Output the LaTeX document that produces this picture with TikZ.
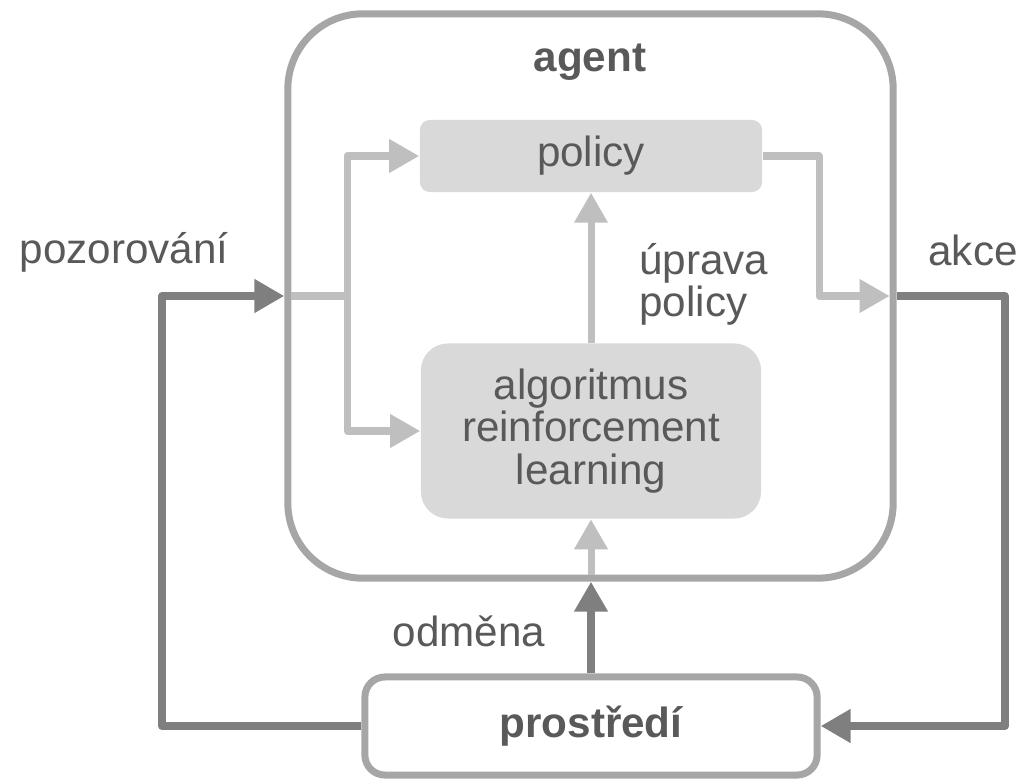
\documentclass[tikz,border=0pt]{standalone}
\usepackage{fontspec}
\setmainfont{Liberation Sans}
\usetikzlibrary{arrows.meta,positioning}
\definecolor{txtgray}{HTML}{595959}
\definecolor{framegray}{HTML}{A6A6A6}
\definecolor{flowlight}{HTML}{BFBFBF}
\definecolor{flowdark}{HTML}{7F7F7F}
\definecolor{boxgray}{HTML}{D9D9D9}

\begin{document}
\begin{tikzpicture}[x=0.01cm,y=-0.01cm,
    every node/.style={text=txtgray,font=\fontsize{12pt}{12pt}\selectfont},
    frame/.style={draw=framegray,line width=0.07cm},
    inner/.style={fill=boxgray,align=center,inner sep=0pt},
    tip/.style={-{Triangle[length=0.3cm,width=0.32cm]}},
    light/.style={draw=flowlight,line width=0.07cm,line join=round},
    dark/.style={draw=flowdark,line width=0.08cm,line join=round}]
    \useasboundingbox (0,0) rectangle (1021,782);

    % boxes
    \node[frame,minimum width=6.05cm,minimum height=5.64cm,rounded corners=0.75cm] (agent) at (590.5,296) {};
    \node[font=\fontsize{12pt}{12pt}\selectfont\bfseries] (agentlbl) at (590,62) {agent};
    \node[inner,minimum width=3.42cm,minimum height=0.72cm,rounded corners=0.1cm] (policy) at (591,156) {policy};
    \node[inner,minimum width=3.4cm,minimum height=1.75cm,rounded corners=0.27cm] (alg) at (591,431) {algoritmus\\reinforcement\\learning};
    \node[frame,fill=white,minimum width=4.52cm,minimum height=0.98cm,rounded corners=0.2cm,
          font=\fontsize{12pt}{12pt}\selectfont\bfseries] (env) at (591,726) {prostředí};

    % labels
    \node (obs) at (124,252) {pozorování};
    \node (act) at (973,250) {akce};
    \node[anchor=west,align=left] (upd) at (627,284) {úprava\\policy};
    \node (rew) at (469,631) {odměna};

    % inner flows
    \coordinate (split) at (347,296);
    \coordinate (turn) at (819,296);
    \draw[light,shorten <=2pt] (agent.west) -- (split);
    \draw[light,tip] (split) |- (policy.west);
    \draw[light,tip] (split) |- (alg.west);
    \draw[light,tip,shorten >=2pt] (policy.east) -| (turn) -- (agent.east);
    \draw[light,tip] (alg.north) -- (policy.south);
    \draw[light,tip,shorten <=2pt] (agent.south -| alg.south) -- (alg.south);

    % outer loop
    \coordinate (obsturn) at (162,296);
    \coordinate (actturn) at (1005,296);
    \draw[dark,tip] (env.west) -| (obsturn) -- (agent.west);
    \draw[dark,tip] (agent.east) -- (actturn) |- (env.east);
    \draw[dark,tip] (env.north) -- (agent.south -| env.north);
\end{tikzpicture}
\end{document}
